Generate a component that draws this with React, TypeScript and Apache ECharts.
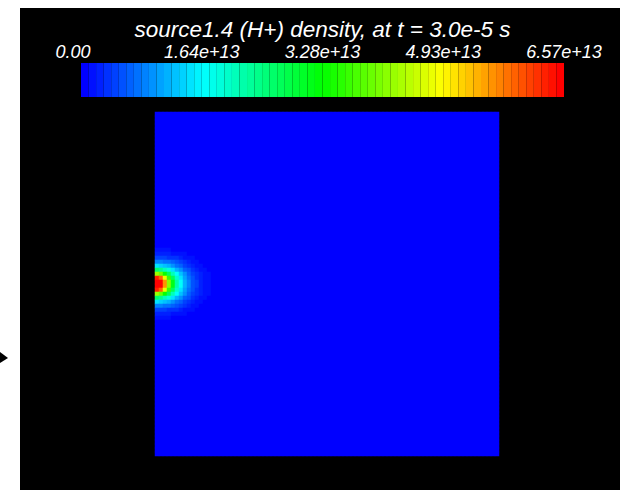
import React, { useEffect, useRef } from "react";
import * as echarts from "echarts";

const TITLE = "source1.4 (H+) density, at t = 3.0e-5 s";
const tickLabels = ["0.00", "1.64e+13", "3.28e+13", "4.93e+13", "6.57e+13"];
const valueMin = 0;
const valueMax = 6.57; // in units of 1e13
const colorStops = ["#0000ff", "#00ffff", "#00ff00", "#ffff00", "#ff0000"];
const colorBands = 64;
const gridCols = 86;
const gridRows = 86;
// density near the left edge (units of 1e13), rows top→bottom, columns left→right
const hotspotTopRow = 34;
const hotspotRows = [
  [0.14, 0.133, 0.125, 0.114, 0.1, 0.081, 0.065, 0.046, 0.033, 0.022, 0.01, 0, 0, 0, 0, 0],
  [0.275, 0.265, 0.25, 0.225, 0.195, 0.167, 0.133, 0.107, 0.08, 0.054, 0.034, 0.02, 0.005, 0, 0, 0],
  [0.5, 0.48, 0.45, 0.41, 0.36, 0.31, 0.26, 0.2, 0.16, 0.115, 0.08, 0.05, 0.03, 0.014, 0.005, 0],
  [0.92, 0.89, 0.82, 0.73, 0.62, 0.52, 0.42, 0.34, 0.26, 0.195, 0.14, 0.098, 0.061, 0.032, 0.012, 0.005],
  [1.5, 1.43, 1.3, 1.14, 0.98, 0.8, 0.63, 0.48, 0.38, 0.285, 0.2, 0.14, 0.095, 0.056, 0.028, 0.008],
  [2.6, 2.45, 2.15, 1.85, 1.52, 1.2, 0.94, 0.71, 0.53, 0.39, 0.29, 0.2, 0.13, 0.085, 0.046, 0.025],
  [4.3, 3.95, 3.35, 2.7, 2.1, 1.65, 1.24, 0.94, 0.68, 0.48, 0.35, 0.25, 0.17, 0.11, 0.064, 0.033],
  [6.3, 5.9, 4.8, 3.6, 2.7, 2.0, 1.5, 1.1, 0.8, 0.56, 0.4, 0.285, 0.19, 0.124, 0.075, 0.038],
  [6.57, 6.5, 5.6, 4.2, 3.1, 2.2, 1.65, 1.18, 0.86, 0.6, 0.42, 0.3, 0.2, 0.13, 0.08, 0.04],
  [6.57, 6.5, 5.6, 4.2, 3.1, 2.2, 1.65, 1.18, 0.86, 0.6, 0.42, 0.3, 0.2, 0.13, 0.08, 0.04],
  [6.3, 5.9, 4.8, 3.6, 2.7, 2.0, 1.5, 1.1, 0.8, 0.56, 0.4, 0.285, 0.19, 0.124, 0.075, 0.038],
  [4.3, 3.95, 3.35, 2.7, 2.1, 1.65, 1.24, 0.94, 0.68, 0.48, 0.35, 0.25, 0.17, 0.11, 0.064, 0.033],
  [2.6, 2.45, 2.15, 1.85, 1.52, 1.2, 0.94, 0.71, 0.53, 0.39, 0.29, 0.2, 0.13, 0.085, 0.046, 0.025],
  [1.5, 1.43, 1.3, 1.14, 0.98, 0.8, 0.63, 0.48, 0.38, 0.285, 0.2, 0.14, 0.095, 0.056, 0.028, 0.008],
  [0.92, 0.89, 0.82, 0.73, 0.62, 0.52, 0.42, 0.34, 0.26, 0.195, 0.14, 0.098, 0.061, 0.032, 0.012, 0.005],
  [0.5, 0.48, 0.45, 0.41, 0.36, 0.31, 0.26, 0.2, 0.16, 0.115, 0.08, 0.05, 0.03, 0.014, 0.005, 0],
  [0.275, 0.265, 0.25, 0.225, 0.195, 0.167, 0.133, 0.107, 0.08, 0.054, 0.034, 0.02, 0.005, 0, 0, 0],
  [0.14, 0.133, 0.125, 0.114, 0.1, 0.081, 0.065, 0.046, 0.033, 0.022, 0.01, 0, 0, 0, 0, 0],
];

function buildCells() {
  const cells: [number, number, number][] = [];
  for (let r = 0; r < gridRows; r++) {
    const hr = hotspotRows[r - hotspotTopRow];
    for (let c = 0; c < gridCols; c++) {
      const v = hr && c < hr.length ? hr[c] : 0;
      cells.push([c, r, v]);
    }
  }
  return cells;
}

const FONT = "'Liberation Sans', Arial, sans-serif";

export default function App() {
  const ref = useRef<HTMLDivElement>(null);
  useEffect(() => {
    if (!ref.current) return;
    const chart = echarts.init(ref.current, undefined, { renderer: "svg" });
    const colIdx = Array.from({ length: gridCols }, (_, i) => String(i));
    const rowIdx = Array.from({ length: gridRows }, (_, i) => String(i));
    const barLeft = 81;
    const barTop = 63;
    const barWidth = 483;
    const barHeight = 34;
    const labelStyle = {
      color: "#fff",
      fontStyle: "italic",
      fontFamily: FONT,
      fontSize: 18,
      lineHeight: 18,
    };
    chart.setOption({
      animation: false,
      backgroundColor: "#000",
      grid: [
        { left: 155, top: 112, width: 344, height: 344, show: false },
        { left: barLeft, top: barTop, width: barWidth, height: barHeight, show: false },
      ],
      xAxis: [
        { type: "category", gridIndex: 0, data: colIdx, show: false },
        {
          type: "category",
          gridIndex: 1,
          data: tickLabels,
          boundaryGap: false,
          position: "top",
          axisLine: { show: false },
          axisTick: { show: false },
          splitLine: { show: false },
          axisLabel: {
            interval: 0,
            ...labelStyle,
            margin: 2,
            formatter: (v: string, i: number) => (i === 0 ? `{first|${v}}` : v),
            rich: {
              first: { ...labelStyle, padding: [0, 16, 0, 0] },
            },
          },
        },
      ],
      yAxis: [
        { type: "category", gridIndex: 0, data: rowIdx, inverse: true, show: false },
        { type: "value", gridIndex: 1, show: false },
      ],
      visualMap: {
        type: "piecewise",
        seriesIndex: 0,
        min: valueMin,
        max: valueMax,
        splitNumber: colorBands,
        orient: "horizontal",
        left: barLeft,
        top: barTop,
        padding: 0,
        itemGap: 0,
        itemWidth: barWidth / colorBands,
        itemHeight: barHeight,
        itemSymbol: "rect",
        showLabel: false,
        selectedMode: false,
        hoverLink: false,
        inRange: { color: colorStops },
      },
      series: [
        {
          type: "heatmap",
          xAxisIndex: 0,
          yAxisIndex: 0,
          data: buildCells(),
          progressive: 0,
          itemStyle: { borderWidth: 0 },
          emphasis: { disabled: true },
        },
      ],
      graphic: [
        { type: "rect", shape: { x: 0, y: 0, width: 20, height: 490 }, style: { fill: "#fff" }, silent: true },
        { type: "rect", shape: { x: 0, y: 0, width: 621, height: 8 }, style: { fill: "#fff" }, silent: true },
        { type: "rect", shape: { x: 620, y: 0, width: 1, height: 490 }, style: { fill: "#fff" }, silent: true },
        {
          type: "polygon",
          shape: { points: [[0, 352], [8, 358], [0, 363]] },
          style: { fill: "#000" },
          silent: true,
        },
        {
          type: "text",
          x: 322.5,
          y: 29,
          style: {
            text: TITLE,
            fill: "#fff",
            font: `italic 22.5px ${FONT}`,
            lineHeight: 22,
            textAlign: "center",
            textVerticalAlign: "middle",
          },
          silent: true,
        },
      ],
    });
    return () => chart.dispose();
  }, []);
  return (
    <div
      ref={ref}
      style={{ position: "fixed", left: 0, top: 0, width: 621, height: 490 }}
    />
  );
}
